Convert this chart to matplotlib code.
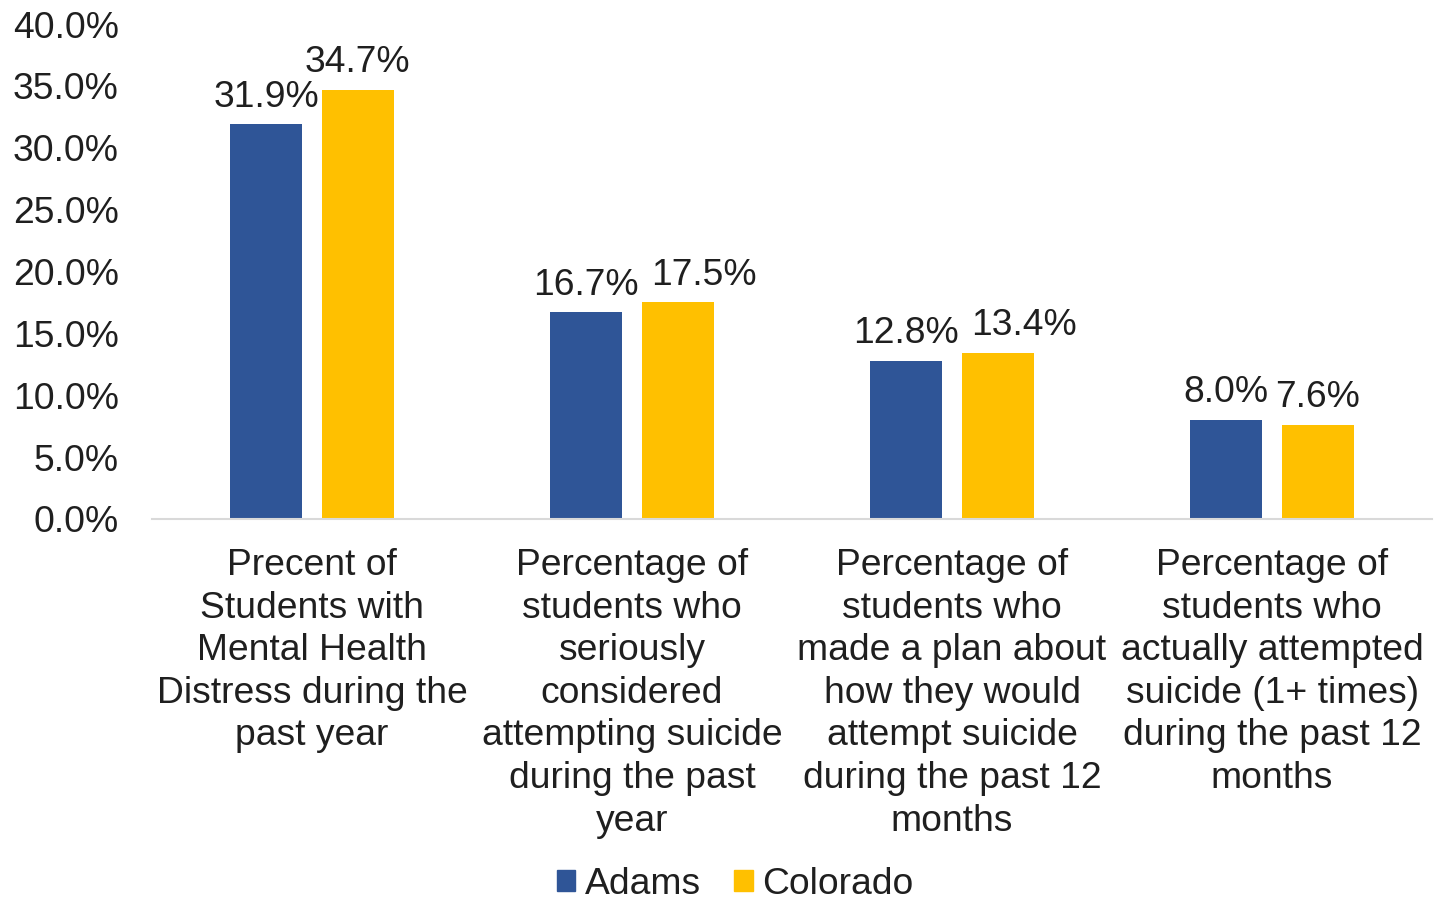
import matplotlib
matplotlib.use("Agg")
import matplotlib.pyplot as plt
import numpy as np
from matplotlib.patches import Patch

plt.rcParams['font.family'] = ['Liberation Sans', 'DejaVu Sans']

categories = [
    "Precent of\nStudents with\nMental Health\nDistress during the\npast year",
    "Percentage of\nstudents who\nseriously\nconsidered\nattempting suicide\nduring the past\nyear",
    "Percentage of\nstudents who\nmade a plan about\nhow they would\nattempt suicide\nduring the past 12\nmonths",
    "Percentage of\nstudents who\nactually attempted\nsuicide (1+ times)\nduring the past 12\nmonths",
]
adams = [31.9, 16.7, 12.8, 8.0]
colorado = [34.7, 17.5, 13.4, 7.6]
series_names = ["Adams", "Colorado"]
yticks = [0, 5, 10, 15, 20, 25, 30, 35, 40]

c_adams = "#2F5597"
c_col = "#FFC000"
fs = 26.8
tc = "#1F1F1F"

fig = plt.figure(figsize=(14.39, 9.02), dpi=100)
ax = fig.add_axes([152/1439, 1-519/902, 1280/1439, 495/902])

x = np.arange(len(categories))
w = 0.225
off = 0.143
b1 = ax.bar(x - off, adams, w, color=c_adams)
b2 = ax.bar(x + off, colorado, w, color=c_col)
labels = []
for bars, vals in ((b1, adams), (b2, colorado)):
    row = []
    for r, v in zip(bars, vals):
        t = ax.annotate(f"{v:.1f}%", (r.get_x() + r.get_width()/2, v), xytext=(0, 7),
                        textcoords="offset points", ha="center", va="bottom",
                        fontsize=fs, color=tc)
        row.append(t)
    labels.append(row)

ax.set_xlim(-0.5, len(categories) - 0.5)
ax.set_ylim(0, 40)
ax.set_yticks(yticks)
ax.set_yticklabels([f"{t:.1f}%" for t in yticks], fontsize=fs, color=tc)
ax.set_xticks(x)
ax.set_xticklabels(categories, fontsize=fs, color=tc, linespacing=1.28)
ax.tick_params(axis="both", length=0)
ax.tick_params(axis="x", pad=21)
ax.tick_params(axis="y", pad=24)
for s in ["top", "right", "left"]:
    ax.spines[s].set_visible(False)
ax.spines["bottom"].set_color("#D9D9D9")
ax.spines["bottom"].set_linewidth(1.5)

# nudge overlapping data labels apart (as Excel does)
fig.canvas.draw()
renderer = fig.canvas.get_renderer()
gap_px = 12
for ta, tb in zip(labels[0], labels[1]):
    ba = ta.get_window_extent(renderer)
    bb = tb.get_window_extent(renderer)
    voverlap = (bb.y0 < ba.y1 - 4) and (ba.y0 < bb.y1 - 4)
    if voverlap and bb.x0 < ba.x1:
        shift = (ba.x1 + gap_px - bb.x0) * 72 / fig.dpi
        tb.set_position((shift, 7))

handles = [Patch(color=c_adams), Patch(color=c_col)]
fig.legend(handles, series_names, loc="center", bbox_to_anchor=(735/1439, 1-884/902),
           ncol=2, frameon=False, fontsize=fs, handlelength=0.5, handleheight=0.5,
           handletextpad=0.25, columnspacing=0.9, labelcolor=tc, borderpad=0.1)

fig.savefig("out.png", dpi=100)
